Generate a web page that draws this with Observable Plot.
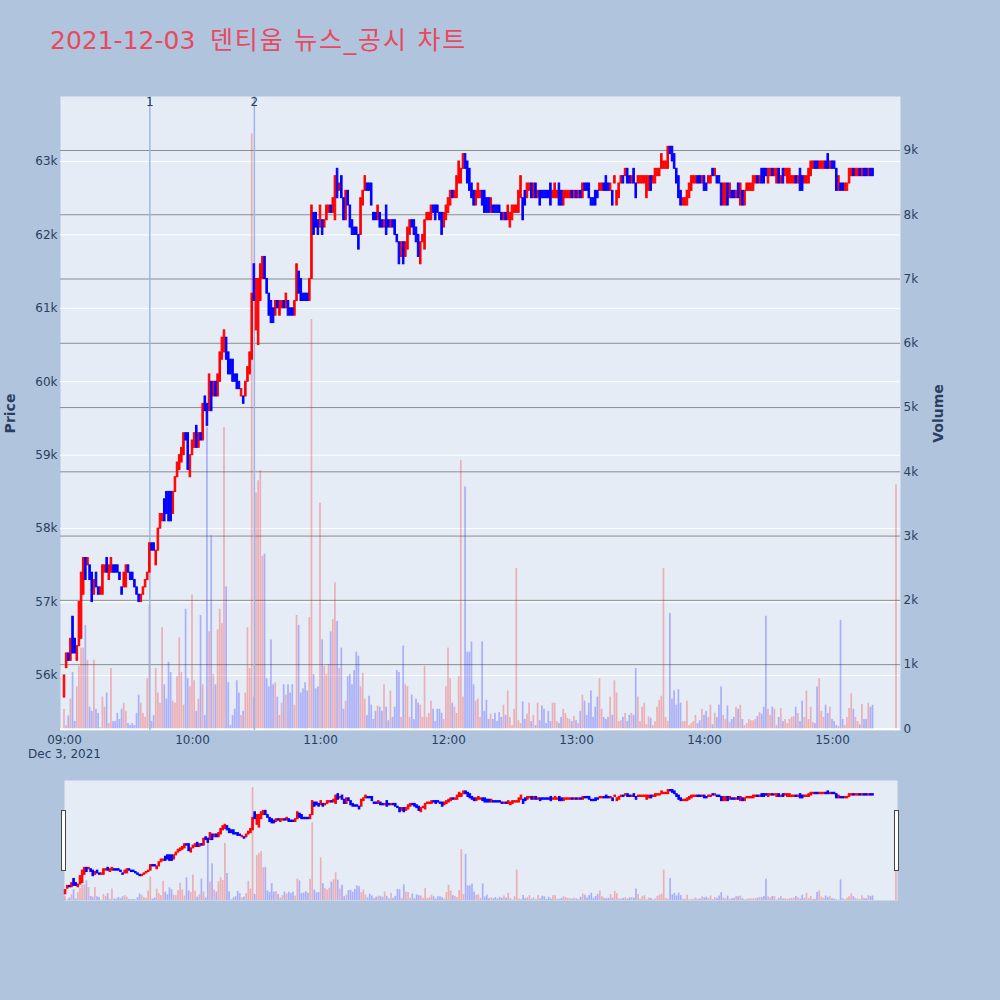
<!DOCTYPE html>
<html><head><meta charset="utf-8">
<script src="https://cdn.jsdelivr.net/npm/d3@7"></script>
<script src="https://cdn.jsdelivr.net/npm/@observablehq/plot@0.6"></script>
<style>
html,body{margin:0;padding:0;background:#B0C4DE;}
#wrap{position:relative;width:1000px;height:1000px;overflow:hidden;}
#wrap svg{position:absolute;left:0;top:0;}
#title{position:absolute;left:50px;top:28px;font-size:25px;line-height:25px;font-family:"DejaVu Sans","Noto Sans CJK KR",sans-serif;color:#e8495f;white-space:nowrap;}
#title .ko{letter-spacing:1.8px;margin-left:5px;}
.handle{position:absolute;width:3px;height:59px;background:#fff;border:1px solid #444;}
</style></head>
<body>
<div id="wrap">
  <div id="title">2021-12-03<span class="ko"> 덴티움 뉴스_공시 차트</span></div>
</div>
<script>
// ---- data (prices in hundreds of KRW, one candle per minute from 09:00) ----
const openH = [
557,561,563,562,568,565,562,564,565,571,576,575,575,574,571,574,572,571,571,574,576,573,574,575,575,575,574,572,572,572,
575,574,574,573,572,571,570,571,572,573,574,578,578,575,577,580,581,584,585,585,585,582,585,587,588,589,590,593,593,587,
590,591,594,591,593,
592,598,597,596,600,598,600,598,600,603,604,606,604,603,603,601,601,600,598,598,598,600,601,603,616,607,605,611,614,617,
614,612,611,610,609,611,609,610,611,610,611,610,610,609,611,615,614,612,612,612,611,614,623,623,622,621,622,621,622,623,
624,623,622,
629,626,628,625,622,626,624,622,621,621,620,620,624,626,627,627,627,623,623,622,623,622,621,624,622,621,622,622,620,619,
617,619,617,618,620,622,622,621,620,616,619,618,622,622,622,624,624,624,623,623,621,622,623,624,626,625,625,627,627,629,
631,630,
629,627,626,624,625,625,626,626,625,625,623,624,624,624,624,623,622,623,622,621,622,623,623,623,625,625,626,625,626,627,
625,627,625,626,626,626,626,626,627,625,625,625,627,626,624,625,625,625,626,625,626,625,626,625,627,627,627,625,625,626,
626,626,626,627,628,627,626,626,
627,624,625,627,628,628,629,628,627,629,627,627,627,627,627,625,626,628,627,627,628,628,629,629,629,629,632,632,631,629,
628,626,624,624,624,625,626,627,627,628,628,627,628,627,627,627,629,628,628,628,627,624,624,627,625,626,626,625,627,624,
626,624,626,626,626,626,627,628,627,629,629,629,627,628,629,628,627,629,627,629,628,627,627,627,627,628,627,629,628,627,
627,627,628,629,630,630,629,629,629,630,631,629,630,630,629,626,627,627,626,626,627,628,629,628,628,629,628,629,629,628,
629,629,
631];
const closeH = [
560,563,562,565,563,563,564,570,574,576,573,576,573,570,573,572,571,572,575,575,574,575,576,574,574,574,573,571,574,575,
574,573,573,572,571,570,571,572,573,574,578,577,577,577,580,582,582,581,582,581,581,585,587,589,590,591,593,592,588,590,
592,593,591,593,592,
597,596,594,601,596,600,598,601,604,606,607,603,601,601,600,600,599,599,599,597,600,602,604,612,611,614,614,616,617,614,
612,609,608,608,611,610,611,611,610,612,609,609,609,611,616,612,611,611,611,611,614,624,620,621,620,624,620,622,624,624,
623,625,628,
625,627,625,622,626,624,621,620,620,620,618,625,626,628,626,626,624,622,622,624,621,621,622,620,621,622,621,620,619,616,
619,616,619,621,622,621,620,619,617,619,620,622,623,623,624,623,622,623,622,620,623,624,625,626,625,626,628,630,629,631,
629,627,
626,625,624,626,627,626,624,623,623,623,625,623,623,623,623,622,623,622,624,623,624,624,624,626,628,622,624,627,627,625,
627,625,626,624,625,625,625,625,624,626,627,626,624,624,626,626,626,626,625,626,625,626,625,627,626,626,625,624,624,624,
625,627,627,626,626,626,627,624,
628,626,627,628,627,629,627,627,628,627,625,628,628,628,628,628,628,626,628,629,629,629,631,630,630,632,631,630,629,627,
625,624,625,625,626,627,628,628,628,627,627,628,626,626,628,628,628,629,627,627,624,627,627,624,627,625,625,626,625,627,
624,626,627,627,627,628,628,627,628,627,627,628,629,629,628,629,629,627,628,627,629,629,629,628,628,627,628,626,626,628,
628,629,630,630,629,629,630,630,630,629,629,630,629,629,626,628,626,626,627,627,629,629,628,629,629,628,629,628,628,629,
628,628,
631];
const volume = [
305,50,200,464,876,114,654,972,1257,1257,1607,1067,337,273,1067,305,241,19,495,337,559,83,940,114,114,241,146,305,400,273,
83,51,83,51,241,527,400,241,178,781,1924,114,210,940,559,400,1575,686,464,1035,876,432,400,813,1416,876,368,1860,781,654,
2083,749,273,464,
1765,686,210,4686,1511,3004,845,686,1543,1860,1638,4686,2210,718,51,210,305,749,559,210,273,559,1575,940,9258,495,3670,3861,4020,2686,
2718,781,654,1384,686,718,495,210,400,686,527,686,559,686,368,1765,1607,559,622,718,590,1734,6369,845,622,654,3512,1384,972,845,
1003,1511,1702,
2273,1670,940,1257,305,432,813,845,686,908,1194,1130,654,864,464,210,508,368,146,273,356,337,273,686,337,127,590,178,337,908,
876,178,1289,686,654,178,527,146,464,400,368,178,972,178,241,432,305,114,305,305,241,146,654,1257,781,400,337,241,813,4178,
495,3766,1194,
1194,1353,686,432,464,178,1353,273,445,146,229,146,241,114,254,178,368,210,590,178,51,305,2496,127,83,419,146,229,400,114,
210,51,400,127,356,305,83,273,114,400,400,114,83,178,305,241,165,146,114,191,127,83,273,527,432,210,400,590,178,337,
495,781,305,178,
146,178,495,210,749,559,114,127,178,241,114,210,241,210,940,495,114,337,400,64,191,165,51,114,337,445,508,2496,178,114,
1797,464,590,368,610,400,114,114,432,51,83,114,210,83,127,305,210,273,178,368,64,241,178,368,654,210,146,356,102,146,
178,337,305,
368,146,51,83,146,127,127,146,191,254,229,337,1753,305,210,337,305,51,178,318,114,146,83,146,178,191,337,241,114,432,
178,590,146,337,102,83,654,781,273,178,368,241,337,146,114,51,38,1689,146,51,178,318,546,305,178,114,64,381,146,146,
400,337,368,
3797];
// minute offsets from 09:00 (continuous session 09:00-15:19, closing auction 15:30)
const minuteIndex = d3.range(380).concat([390]);
const eventMinutes = [40, 89];
const eventLabels = ["1", "2"];
const priceTicks = [56000,57000,58000,59000,60000,61000,62000,63000];
const volumeTicks = [0,1000,2000,3000,4000,5000,6000,7000,8000,9000];
const hourTicks = [9,10,11,12,13,14,15];

const t0 = new Date(2021, 11, 3, 9, 0, 0);
const at = m => new Date(t0.getTime() + m * 60000);
const rows = minuteIndex.map((m, i) => ({t: at(m), open: openH[i] * 100, close: closeH[i] * 100, vol: volume[i]}));
const upRows = rows.filter(d => d.close >= d.open);
const dnRows = rows.filter(d => d.close < d.open);
const events = eventMinutes.map((m, i) => ({t: at(m), label: eventLabels[i]}));
const hours = hourTicks.map(h => new Date(2021, 11, 3, h, 0, 0));

const RED = "#ff0000", BLUE = "#0000ff", INK = "#2a3f5f";
const font = "'DejaVu Sans', Verdana, sans-serif";
const baseStyle = {background: "transparent", color: INK, fontFamily: font, fontSize: "12px", overflow: "visible"};
const mainM = {marginTop: 96, marginBottom: 270, marginLeft: 60, marginRight: 100};
const sliderM = {marginTop: 780, marginBottom: 100, marginLeft: 64, marginRight: 103};
const mainX = {type: "time", domain: [at(-1.875), at(391.875)], axis: null};
const sliderX = {type: "time", domain: [at(-0.5), at(390.5)], axis: null};
const priceY = {domain: [55251, 63885], axis: null};
const volY = {domain: [-25, 9840], axis: null};
const sVolY = {domain: [0, 9840], axis: null};
const half = 22000, vhalf = 24000;
const bx1 = d => new Date(+d.t - half), bx2 = d => new Date(+d.t + half);
const vx1 = d => new Date(+d.t - vhalf), vx2 = d => new Date(+d.t + vhalf);

function candles() {
  return [
    Plot.rect(upRows, {x1: bx1, x2: bx2, y1: "open", y2: "close", fill: RED, stroke: RED, strokeWidth: 1}),
    Plot.rect(dnRows, {x1: bx1, x2: bx2, y1: "open", y2: "close", fill: BLUE, stroke: BLUE, strokeWidth: 1})
  ];
}
function volBars() {
  return [
    Plot.rect(upRows, {x1: vx1, x2: vx2, y1: () => 0, y2: "vol", fill: RED, fillOpacity: 0.26}),
    Plot.rect(dnRows, {x1: vx1, x2: vx2, y1: () => 0, y2: "vol", fill: BLUE, fillOpacity: 0.26})
  ];
}

const wrap = document.getElementById("wrap");
const title = document.getElementById("title");

// Layer 1: main background, price grid and axes
const L1 = Plot.plot({
  width: 1000, height: 1000, ...mainM, style: baseStyle,
  x: mainX, y: priceY,
  marks: [
    Plot.frame({fill: "#E5ECF6", stroke: "none"}),
    Plot.ruleY(priceTicks, {stroke: "#ffffff", strokeWidth: 1}),
    Plot.axisY(priceTicks, {anchor: "left", tickSize: 0, tickPadding: 3, tickFormat: d => d / 1000 + "k", label: null}),
    Plot.axisX(hours, {anchor: "bottom", tickSize: 0, tickPadding: 5, tickFormat: d3.timeFormat("%H:%M"), label: null}),
    Plot.text([t0], {x: d => d, text: () => "Dec 3, 2021", frameAnchor: "bottom", dy: 27, fontSize: 12}),
    Plot.text(["Price"], {text: d => d, frameAnchor: "left", textAnchor: "middle", dx: -50, rotate: -90, fontWeight: "bold", fontSize: 14})
  ]
});
// Layer 2: volume grid, bars, right axis, event lines
const L2 = Plot.plot({
  width: 1000, height: 1000, ...mainM, style: baseStyle,
  x: mainX, y: volY,
  marks: [
    Plot.ruleY([0], {stroke: "#ffffff", strokeWidth: 2}),
    Plot.ruleY(volumeTicks.slice(1), {stroke: "#8e8e8e", strokeWidth: 1}),
    ...volBars(),
    Plot.axisY(volumeTicks, {anchor: "right", tickSize: 0, tickPadding: 3, tickFormat: d => d === 0 ? "0" : d / 1000 + "k", label: null}),
    Plot.text(["Volume"], {text: d => d, frameAnchor: "right", textAnchor: "middle", dx: 38, rotate: -90, fontWeight: "bold", fontSize: 14}),
    Plot.ruleX(events, {x: "t", stroke: "#9fb5ea", strokeWidth: 1.5}),
    Plot.text(events, {x: "t", text: "label", frameAnchor: "top", dy: 1, fontSize: 12})
  ]
});
// Layer 3: candles
const L3 = Plot.plot({
  width: 1000, height: 1000, ...mainM, style: baseStyle,
  x: mainX, y: priceY,
  marks: candles()
});
// Range slider: background + volume, then candles
const L4 = Plot.plot({
  width: 1000, height: 1000, ...sliderM, style: baseStyle,
  x: sliderX, y: sVolY,
  marks: [Plot.frame({fill: "#E5ECF6", stroke: "none"}), ...volBars()]
});
const L5 = Plot.plot({
  width: 1000, height: 1000, ...sliderM, style: baseStyle,
  x: sliderX, y: priceY,
  marks: candles()
});
[L1, L2, L3, L4, L5].forEach(s => wrap.insertBefore(s, title));

// range slider handles
for (const left of [61, 894]) {
  const h = document.createElement("div");
  h.className = "handle";
  h.style.left = left + "px";
  h.style.top = "810px";
  wrap.appendChild(h);
}
</script>
</body></html>
